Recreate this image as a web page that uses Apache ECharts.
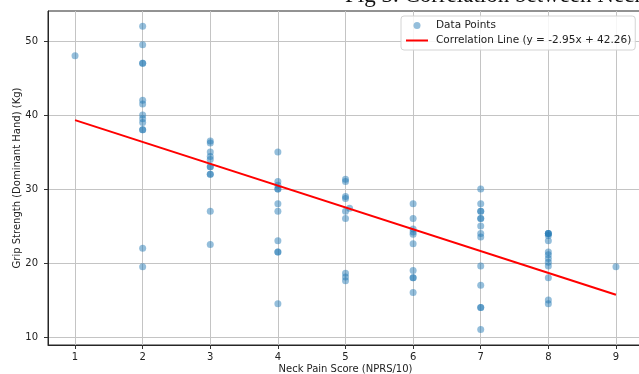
<!DOCTYPE html>
<html>
<head>
<meta charset="utf-8">
<script src="https://cdn.jsdelivr.net/npm/echarts@6/dist/echarts.min.js"></script>
<style>
html,body{margin:0;padding:0;background:#fff;}
#chart{width:639px;height:374px;}
</style>
</head>
<body>
<div id="chart"></div>
<script>
// Neck pain score (x) and grip strength (y) for each data point
const painScore = [
  1,
  2,2,2,2,2,2,2,2,2,2,2,2,2,
  3,3,3,3,3,3,3,3,3,3,3,
  4,4,4,4,4,4,4,4,4,4,4,
  5,5,5,5,5,5,5,5,5,5.06,
  6,6,6,6,6,6,6,6,6,6,
  7,7,7,7,7,7,7,7,7,7,7,7,7,7,
  8,8,8,8,8,8,8,8,8,8,8,8,8,
  9
];
const gripStrength = [
  48,
  52,49.5,47,47,42,41.5,40,39.5,39,38,38,22,19.5,
  36.5,36.2,35,34.4,34,33,33,32,32,27,22.5,
  35,31,30.5,30,30,28,27,23,21.5,21.5,14.5,
  31.3,31,29,28.7,27,26,18.6,18.1,17.6,27.4,
  28,26,24.6,24.2,23.9,22.6,19,18,18,16,
  30,28,27,27,26,26,25,24,23.5,19.6,17,14,14,11,
  24,24,24,23.7,23,21.5,21.1,20.6,20.1,19.6,18,15,14.5,
  19.5
];
// Correlation line (y = -2.95x + 42.26) endpoints
const lineX = [1, 9];
const lineY = [39.31, 15.71];
const xTicks = [1,2,3,4,5,6,7,8,9];
const yTicks = [10,20,30,40,50];

const points = painScore.map((x, i) => [x, gripStrength[i]]);
const linePts = lineX.map((x, i) => [x, lineY[i]]);

const font = 'DejaVu Sans';
const chart = echarts.init(document.getElementById('chart'), null, {renderer: 'canvas'});
chart.setOption({
  animation: false,
  backgroundColor: '#ffffff',
  textStyle: {fontFamily: font},
  graphic: [{
    type: 'text',
    left: 345,
    top: -16,
    silent: true,
    style: {
      text: 'Fig 3. Correlation between Neck Pain and Grip Strength',
      font: '23px "Liberation Serif"',
      fill: '#111'
    }
  }],
  grid: {
    left: 48, top: 11, width: 595, height: 334,
    show: true, borderColor: '#262626', borderWidth: 1,
    containLabel: false,
    outerBoundsMode: 'none'
  },
  legend: {
    orient: 'vertical',
    left: 401, top: 16,
    padding: [3, 4, 3, 4],
    itemWidth: 22, itemHeight: 7, itemGap: 2,
    backgroundColor: 'rgba(255,255,255,0.85)',
    borderColor: '#d4d4d4', borderWidth: 1, borderRadius: 3,
    textStyle: {fontFamily: font, fontSize: 10.5, color: '#222', padding: [0,0,0,3], lineHeight: 13},
    data: [
      {name: 'Data Points', icon: 'circle'},
      {name: 'Correlation Line (y = -2.95x + 42.26)', itemStyle: {opacity: 0}}
    ]
  },
  xAxis: {
    type: 'value',
    min: 0.6, max: 9.4,
    name: 'Neck Pain Score (NPRS/10)',
    nameLocation: 'middle', nameGap: 19, nameMoveOverlap: false,
    nameTextStyle: {fontFamily: font, fontSize: 10, color: '#222'},
    axisLine: {show: true, lineStyle: {color: '#262626', width: 1}},
    axisTick: {show: true, length: 4, customValues: xTicks, lineStyle: {color: '#333'}},
    axisLabel: {customValues: xTicks, margin: 7, fontFamily: font, fontSize: 10, color: '#222'},
    splitLine: {show: true, lineStyle: {color: '#c4c4c4', width: 1}}
  },
  yAxis: {
    type: 'value',
    min: 8.92, max: 54.05,
    name: 'Grip Strength (Dominant Hand) (Kg)',
    nameLocation: 'middle', nameGap: 26, nameMoveOverlap: false,
    nameTextStyle: {fontFamily: font, fontSize: 10, color: '#222'},
    axisLine: {show: true, lineStyle: {color: '#262626', width: 1}},
    axisTick: {show: true, length: 4, customValues: yTicks, lineStyle: {color: '#333'}},
    axisLabel: {customValues: yTicks, margin: 10, fontFamily: font, fontSize: 10, color: '#222'},
    splitLine: {show: true, lineStyle: {color: '#c4c4c4', width: 1}}
  },
  series: [
    {
      name: 'Data Points',
      type: 'scatter',
      data: points,
      symbolSize: 7,
      itemStyle: {color: 'rgba(31,119,180,0.6)'},
      z: 2
    },
    {
      name: 'Correlation Line (y = -2.95x + 42.26)',
      type: 'line',
      data: linePts,
      symbol: 'none',
      lineStyle: {color: '#ff0000', width: 2},
      itemStyle: {color: '#ff0000'},
      z: 3
    }
  ]
});
</script>
</body>
</html>
